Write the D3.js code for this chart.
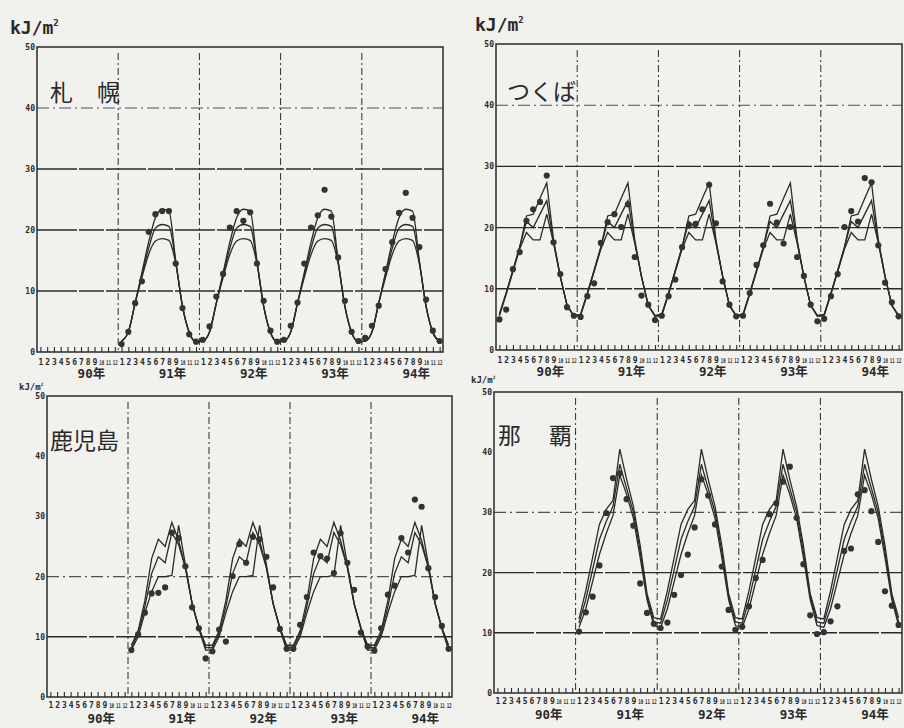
<!DOCTYPE html>
<html><head><meta charset="utf-8">
<script src="https://cdn.jsdelivr.net/npm/d3@7"></script>
<style>body{margin:0;background:#f1f1ee}svg{display:block}</style>
</head><body><svg id="c" width="904" height="728"></svg>
<script>
const monthLabels = ["1","2","3","4","5","6","7","8","9","10","11","12"];
const yearLabels = ["90年","91年","92年","93年","94年"];
const yTicks = [0,10,20,30,40,50];
const unitLabel = "kJ/m";

// 札幌 observed, Jan 1991 - Dec 1994
const sapporoObs = [
 1.3,3.3,8.0,11.6,19.7,22.6,23.1,23.1,14.5,7.2,2.9,1.7,
 2.0,4.2,9.1,12.8,20.4,23.1,21.5,22.9,14.5,8.4,3.5,1.7,
 2.0,4.3,8.1,14.5,20.4,22.4,26.6,22.2,15.5,8.4,3.3,1.8,
 2.3,4.3,7.6,13.6,18.0,22.8,26.1,22.0,17.2,8.6,3.5,1.8];
const sapporoUpper = [1.8,3.3,8.0,13.0,18.0,22.0,23.4,23.1,15.0,7.5,3.2,1.7];
const sapporoMid   = [1.8,3.3,8.0,12.6,17.0,20.3,20.9,20.6,14.8,7.5,3.2,1.7];
const sapporoLow   = [1.8,3.3,8.0,12.2,16.0,18.2,18.6,18.3,14.5,7.5,3.2,1.7];

// つくば observed, Jan 1990 - Dec 1994
const tsukubaObs = [
 5.0,6.6,13.2,16.0,21.1,23.0,24.2,28.5,17.6,12.4,7.0,5.6,
 5.4,8.8,10.9,17.5,20.9,22.2,20.1,23.8,15.2,8.9,7.4,4.9,
 5.6,8.8,11.5,16.8,20.3,20.6,23.0,27.0,20.7,11.2,7.4,5.5,
 5.6,9.3,13.9,17.1,23.9,20.8,17.4,20.1,15.2,12.1,7.4,4.7,
 5.1,8.8,12.4,20.1,22.7,21.0,28.1,27.4,17.1,11.0,7.8,5.5];
const tsukubaUpper = [5.8,9.3,13.0,16.8,21.9,22.2,24.8,27.3,18.0,12.0,7.3,5.6];
const tsukubaMid   = [5.8,9.3,13.0,16.8,21.0,20.0,22.2,24.4,17.7,12.0,7.3,5.6];
const tsukubaLow   = [5.6,9.1,12.8,16.5,19.2,18.0,18.0,22.2,17.5,12.0,7.3,5.5];

// 鹿児島 observed, Jan 1991 - Dec 1994
const kagoshimaObs = [
 7.8,10.4,14.0,17.2,17.3,18.2,27.3,26.4,21.7,14.9,11.4,6.4,
 7.6,11.2,9.2,20.1,25.4,22.3,26.6,26.2,23.3,18.2,11.3,8.0,
 8.0,12.0,16.6,24.0,23.4,23.0,20.6,27.2,22.3,17.8,10.7,8.4,
 7.7,11.4,17.0,18.5,26.4,24.0,32.8,31.6,21.4,16.6,11.8,8.0];
const kagoshimaUpper = [8.6,11.0,16.0,23.0,26.2,25.0,29.0,26.0,21.5,15.5,11.5,8.6];
const kagoshimaMid   = [8.2,10.5,15.0,20.5,23.3,22.3,27.3,25.3,21.5,15.5,11.5,8.2];
const kagoshimaLow   = [7.8,10.0,14.0,17.5,20.0,20.0,20.2,28.5,22.0,15.5,11.3,7.8];

// 那覇 observed, Jan 1991 - Dec 1994
const nahaObs = [
 10.2,13.4,16.0,21.2,29.9,35.7,36.5,32.2,27.8,18.2,13.3,11.5,
 10.8,11.7,16.3,19.6,23.0,27.5,35.5,32.8,28.0,21.0,13.8,10.5,
 11.0,14.4,19.1,22.1,29.7,31.5,35.1,37.6,29.1,21.4,12.9,9.8,
 10.1,11.9,14.4,23.6,24.0,33.0,33.7,30.2,25.1,16.9,14.5,11.3];
const nahaUpper = [12.3,17.0,22.5,28.0,30.5,32.0,40.5,35.5,31.0,24.5,16.5,12.5];
const nahaMid   = [11.6,15.5,20.5,25.5,28.5,31.0,38.0,34.0,30.0,23.5,16.0,11.8];
const nahaLow   = [10.9,14.0,18.5,23.0,26.5,29.5,36.2,33.0,29.0,22.5,15.5,11.2];

const INK = "#2a2a2a";
const svg = d3.select("#c");
svg.append("rect").attr("width",904).attr("height",728).attr("fill","#f1f1ee");

const panels = [
 {name:["札","幌"], nameX:[50,97], nameY:101, x0:37, x1:443, yTop:47, y0:352, start:1,
  obs:sapporoObs, lines:[sapporoUpper,sapporoMid,sapporoLow], smooth:true,
  solid:[10,20,30], dashdot:[40], unit:{x:10,y:34,size:18}, mdy:13},
 {name:["つくば"], nameX:[507], nameY:100, x0:496, x1:902, yTop:44, y0:350, start:0,
  obs:tsukubaObs, lines:[tsukubaUpper,tsukubaMid,tsukubaLow], smooth:false,
  solid:[10,20,30], dashdot:[40], unit:{x:475,y:31,size:18}, mdy:13},
 {name:["鹿児島"], nameX:[50], nameY:449, x0:47, x1:452, yTop:396, y0:697, start:1,
  obs:kagoshimaObs, lines:[kagoshimaUpper,kagoshimaMid,kagoshimaLow], smooth:false,
  solid:[10], dashdot:[20], unit:{x:19,y:390,size:9}, mdy:11},
 {name:["那","覇"], nameX:[498,549], nameY:444, x0:494, x1:902, yTop:392, y0:693, start:1,
  obs:nahaObs, lines:[nahaUpper,nahaMid,nahaLow], smooth:false,
  solid:[10,20], dashdot:[30], unit:{x:471,y:383,size:9}, mdy:11}
];

panels.forEach(p => {
  const g = svg.append("g");
  const x = d3.scaleLinear().domain([0,60]).range([p.x0,p.x1]);
  const y = d3.scaleLinear().domain([0,50]).range([p.y0,p.yTop]);
  const yw = (p.x1-p.x0)/5;

  // gridlines
  g.selectAll(".gs").data(p.solid).join("line")
    .attr("x1",p.x0).attr("x2",p.x1).attr("y1",d=>y(d)).attr("y2",d=>y(d))
    .attr("stroke",INK).attr("stroke-width",1.4).attr("stroke-dasharray","40,2,25,2");
  g.selectAll(".gd").data(p.dashdot).join("line")
    .attr("x1",p.x0).attr("x2",p.x1).attr("y1",d=>y(d)).attr("y2",d=>y(d))
    .attr("stroke",INK).attr("stroke-width",1.1).attr("stroke-dasharray","12,4,2,4")
    .attr("opacity",0.8);
  // year separators
  g.selectAll(".vy").data([1,2,3,4]).join("line")
    .attr("x1",d=>x(d*12)).attr("x2",d=>x(d*12)).attr("y1",p.yTop+6).attr("y2",p.y0)
    .attr("stroke",INK).attr("stroke-width",1).attr("stroke-dasharray","7,3,2,3");

  // frame
  g.append("rect").attr("x",p.x0).attr("y",p.yTop).attr("width",p.x1-p.x0).attr("height",p.y0-p.yTop)
    .attr("fill","none").attr("stroke",INK).attr("stroke-width",1.5);

  // y axis
  const ya = d3.axisLeft(y).tickValues(yTicks).tickSize(0).tickPadding(2);
  const yg = g.append("g").attr("transform",`translate(${p.x0},0)`).call(ya);
  yg.select(".domain").remove();
  yg.selectAll("text").attr("font-family","DejaVu Sans Mono").attr("font-weight","bold")
    .attr("font-size",8).attr("fill",INK);

  // x axis: month ticks
  const mIdx = d3.range(60);
  const xa = d3.axisBottom(x).tickValues(mIdx.map(i=>i+0.5)).tickSize(-5).tickPadding(0)
    .tickFormat((d,i)=>monthLabels[i%12]);
  const xg = g.append("g").attr("transform",`translate(0,${p.y0})`).call(xa);
  xg.select(".domain").remove();
  xg.selectAll("line").attr("stroke",INK).attr("stroke-width",1.1);
  xg.selectAll("text").attr("font-family","DejaVu Sans Mono").attr("font-weight","bold")
    .attr("font-size",8).attr("fill",INK).attr("dy",null).attr("y",p.mdy)
    .each(function(d,i){ if(monthLabels[i%12].length>1){ d3.select(this).attr("textLength",5).attr("lengthAdjust","spacingAndGlyphs").attr("font-size",6.5);} });
  // year labels
  g.selectAll(".yl").data(yearLabels).join("text")
    .attr("x",(d,i)=>p.x0+yw*i+yw*0.67).attr("y",p.y0+26)
    .attr("text-anchor","middle").attr("font-family","DejaVu Sans Mono, Noto Sans CJK JP")
    .attr("font-weight","bold").attr("font-size",12.5).attr("fill",INK).text(d=>d);

  // unit label
  const u = g.append("text").attr("x",p.unit.x).attr("y",p.unit.y)
    .attr("font-family","DejaVu Sans Mono").attr("font-weight","bold")
    .attr("font-size",p.unit.size).attr("fill",INK);
  u.append("tspan").text(unitLabel);
  u.append("tspan").attr("dy",-p.unit.size*0.45).attr("font-size",p.unit.size*0.5).text("2");

  // station name
  g.selectAll(".nm").data(p.name).join("text")
    .attr("x",(d,i)=>p.nameX[i]).attr("y",p.nameY)
    .attr("font-family","Noto Sans CJK JP").attr("font-size",23).attr("fill",INK).text(d=>d);

  // model lines (monthly pattern per year)
  const line = d3.line().x(d=>x(d[0]+0.5)).y(d=>y(d[1]))
    .curve(p.smooth ? d3.curveMonotoneX : d3.curveLinear);
  p.lines.forEach(arr => {
    const pts = [];
    for (let yr=p.start; yr<5; yr++) arr.forEach((v,m)=>pts.push([yr*12+m,v]));
    g.append("path").attr("d",line(pts)).attr("fill","none")
      .attr("stroke",INK).attr("stroke-width",1.3);
  });

  // observed dots
  g.selectAll(".dot").data(p.obs).join("circle")
    .attr("cx",(d,i)=>x(p.start*12+i+0.5)).attr("cy",d=>y(d)).attr("r",3.1)
    .attr("fill","#333");
});
</script></body></html>
